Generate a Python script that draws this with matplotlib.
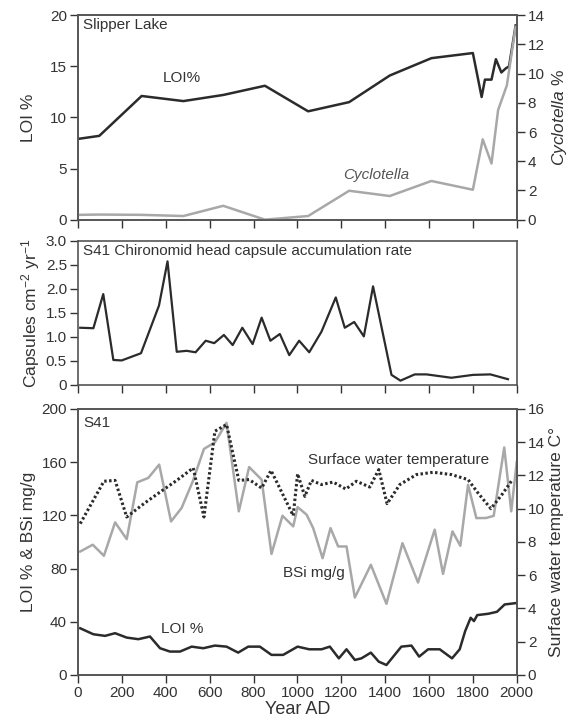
import matplotlib.pyplot as plt

plt.rcParams['font.family'] = ['Liberation Sans', 'DejaVu Sans']
plt.rcParams['mathtext.fontset'] = 'custom'
plt.rcParams['mathtext.rm'] = 'Liberation Sans'
plt.rcParams['mathtext.it'] = 'Liberation Sans:italic'

# --- Slipper Lake ---
sl_years = [0, 97, 290, 480, 662, 852, 1049, 1236, 1421, 1611, 1800, 1840, 1855, 1885, 1905, 1930, 1950, 1965, 1995]
sl_loi = [7.9, 8.2, 12.1, 11.6, 12.2, 13.1, 10.6, 11.5, 14.1, 15.8, 16.3, 12.0, 13.7, 13.7, 15.7, 14.4, 14.8, 15.0, 19.0]
cyc_years = [0, 97, 290, 480, 662, 852, 1049, 1236, 1421, 1611, 1800, 1845, 1885, 1915, 1955, 1995]
cyc_pct = [0.33, 0.35, 0.33, 0.25, 0.95, 0.0, 0.25, 1.98, 1.62, 2.65, 2.05, 5.5, 3.85, 7.5, 9.2, 13.2]

# --- S41 chironomids ---
chi_years = [10, 70, 115, 161, 199, 287, 369, 408, 450, 495, 536, 582, 621, 665, 705, 749, 796, 837,
             877, 920, 963, 1008, 1054, 1110, 1175, 1216, 1259, 1303, 1345, 1429, 1470, 1535, 1589,
             1702, 1801, 1880, 1960]
chi_rate = [1.19, 1.18, 1.89, 0.52, 0.51, 0.66, 1.65, 2.57, 0.69, 0.71, 0.68, 0.92, 0.87, 1.04, 0.83,
            1.19, 0.85, 1.40, 0.92, 1.06, 0.62, 0.92, 0.68, 1.11, 1.82, 1.19, 1.31, 1.01, 2.05, 0.21,
            0.09, 0.22, 0.22, 0.15, 0.21, 0.22, 0.12]

# --- S41 LOI, BSi, temperature ---
loi_years = [10, 70, 123, 169, 222, 275, 328, 374, 419, 465, 518, 571, 624, 677, 730, 776, 829, 882,
             935, 1001, 1054, 1110, 1148, 1189, 1224, 1262, 1292, 1335, 1371, 1406, 1474, 1520, 1555,
             1596, 1649, 1705, 1740, 1765, 1790, 1805, 1820, 1870, 1910, 1945, 1995]
loi_s41 = [35.1, 30.6, 29.4, 31.4, 28.1, 26.9, 28.9, 20.1, 17.6, 17.6, 21.3, 20.1, 22.1, 21.3, 16.8,
           21.3, 21.3, 15.1, 15.1, 21.3, 19.3, 19.3, 21.3, 12.5, 19.3, 11.3, 12.5, 16.8, 10.0, 7.5,
           21.3, 22.1, 13.8, 19.3, 19.3, 12.5, 19.3, 33.0, 43.0, 40.5, 45.0, 46.0, 47.5, 53.0, 54.0]
bsi_years = [10, 67, 118, 169, 222, 270, 320, 370, 424, 472, 523, 574, 624, 677, 733, 780, 837, 882,
             932, 981, 1001, 1042, 1072, 1115, 1151, 1186, 1224, 1262, 1335, 1406, 1479, 1550, 1626,
             1664, 1707, 1743, 1778, 1816, 1860, 1895, 1943, 1975, 2000]
bsi = [92.8, 97.9, 89.6, 114.7, 102.1, 144.8, 148.1, 158.1, 115.4, 125.5, 145.5, 169.9, 174.9, 189.5,
       123.0, 156.3, 146.8, 91.0, 119.7, 111.7, 126.2, 120.5, 110.4, 87.8, 110.4, 96.6, 96.6, 58.2,
       82.8, 53.5, 99.1, 69.5, 109.2, 76.0, 107.9, 97.1, 143.0, 117.9, 118.0, 119.6, 171.0, 123.0, 160.0]
tmp_years = [10, 118, 169, 222, 300, 374, 450, 525, 574, 624, 677, 733, 780, 837, 880, 981, 1001, 1034,
             1064, 1110, 1163, 1221, 1269, 1330, 1371, 1409, 1467, 1543, 1619, 1702, 1778, 1820, 1882,
             1930, 1978]
tmp = [9.1, 11.65, 11.7, 9.5, 10.3, 11.0, 11.7, 12.45, 9.5, 14.66, 15.06, 11.7, 11.75, 11.24, 12.3,
       9.58, 12.1, 10.74, 11.7, 11.45, 11.6, 11.18, 11.65, 11.3, 12.35, 10.3, 11.45, 12.05, 12.19,
       12.05, 11.75, 11.0, 10.0, 10.8, 11.7]

dark = '#2b2b2b'
grey = '#a8a8a8'
txt = '#333333'
tick_fs = 11
lab_fs = 12.5
in_fs = 11

fig = plt.figure(figsize=(5.78, 7.25), dpi=100)


def style(ax):
    ax.set_xlim(0, 2000)
    ax.set_xticks(range(0, 2001, 200))
    ax.tick_params(direction='out', length=5.5, width=1, colors=txt, labelsize=tick_fs, pad=2.5)
    for s in ax.spines.values():
        s.set_color('#555555')
        s.set_linewidth(1.2)


# top panel
ax1 = fig.add_axes([0.135, 0.697, 0.759, 0.282])
style(ax1)
ax1.plot(sl_years, sl_loi, color=dark, lw=1.8)
ax1.set_ylim(0, 20)
ax1.set_yticks([0, 5, 10, 15, 20])
ax1.tick_params(axis='x', labelbottom=False)
ax1.set_ylabel('LOI %', fontsize=lab_fs, color=txt, labelpad=10)
ax1.text(0.012, 0.985, 'Slipper Lake', transform=ax1.transAxes, ha='left', va='top', fontsize=in_fs, color=txt)
ax1.text(475, 13.2, 'LOI%', ha='center', va='bottom', fontsize=in_fs, color=txt)
ax1r = ax1.twinx()
style(ax1r)
ax1r.plot(cyc_years, cyc_pct, color=grey, lw=1.8)
ax1r.set_ylim(0, 14)
ax1r.set_yticks(range(0, 15, 2))
ax1r.set_ylabel(r'$\it{Cyclotella}$ %', fontsize=lab_fs, color=txt, labelpad=4)
ax1r.text(1360, 2.55, 'Cyclotella', ha='center', va='bottom', fontsize=in_fs, style='italic', color='#555555')

# middle panel
ax2 = fig.add_axes([0.135, 0.469, 0.759, 0.199])
style(ax2)
ax2.plot(chi_years, chi_rate, color=dark, lw=1.6)
ax2.set_ylim(0, 3.0)
ax2.set_yticks([0, 0.5, 1.0, 1.5, 2.0, 2.5, 3.0])
ax2.set_yticklabels(['0', '0.5', '1.0', '1.5', '2.0', '2.5', '3.0'])
ax2.tick_params(axis='x', labelbottom=False)
ax2.set_ylabel(r'Capsules cm$^{-2}$ yr$^{-1}$', fontsize=lab_fs, color=txt, labelpad=3)
ax2.text(0.012, 0.975, 'S41 Chironomid head capsule accumulation rate', transform=ax2.transAxes,
         ha='left', va='top', fontsize=in_fs, color=txt)

# bottom panel
ax3 = fig.add_axes([0.135, 0.069, 0.759, 0.367])
style(ax3)
ax3.plot(bsi_years, bsi, color=grey, lw=1.8, zorder=2)
ax3.plot(loi_years, loi_s41, color=dark, lw=1.8, zorder=3)
ax3.set_ylim(0, 200)
ax3.set_yticks(range(0, 201, 40))
ax3.set_ylabel('LOI % & BSi mg/g', fontsize=lab_fs, color=txt, labelpad=4)
ax3.set_xlabel('Year AD', fontsize=13, color=txt, labelpad=1)
ax3.text(0.012, 0.975, 'S41', transform=ax3.transAxes, ha='left', va='top', fontsize=in_fs, color=txt)
ax3.text(1075, 77, 'BSi mg/g', ha='center', va='center', fontsize=in_fs, color=txt)
ax3.text(475, 29, 'LOI %', ha='center', va='bottom', fontsize=in_fs, color=txt)
ax3r = ax3.twinx()
style(ax3r)
ax3r.plot(tmp_years, tmp, color=dark, lw=2.2, linestyle=(0, (0.8, 0.8)), zorder=4)
ax3r.set_ylim(0, 16)
ax3r.set_yticks(range(0, 17, 2))
ax3r.set_ylabel('Surface water temperature C°', fontsize=lab_fs, color=txt, labelpad=3)
ax3r.text(1462, 12.9, 'Surface water temperature', ha='center', va='center', fontsize=in_fs, color=txt)

fig.savefig('out.png', dpi=100)
